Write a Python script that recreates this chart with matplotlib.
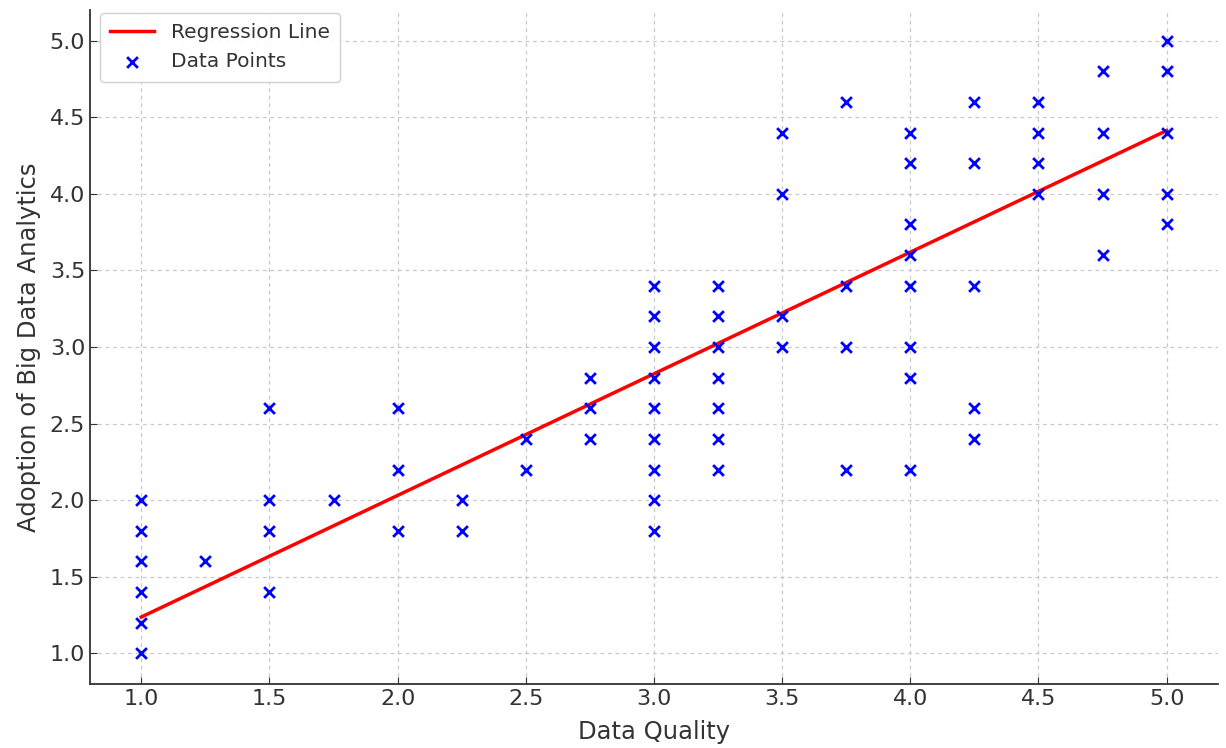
import numpy as np
import matplotlib.pyplot as plt

# Data (x = Data Quality, y = Adoption of Big Data Analytics)
x_groups = [1.0, 1.25, 1.5, 1.75, 2.0, 2.25, 2.5, 2.75, 3.0, 3.25,
            3.5, 3.75, 4.0, 4.25, 4.5, 4.75, 5.0]
y_groups = [
    [2.0, 1.8, 1.6, 1.4, 1.2, 1.0],
    [1.6],
    [2.6, 2.0, 1.8, 1.4],
    [2.0],
    [2.6, 2.2, 1.8],
    [2.0, 1.8],
    [2.4, 2.2],
    [2.8, 2.6, 2.4],
    [3.4, 3.2, 3.0, 2.8, 2.6, 2.4, 2.2, 2.0, 1.8],
    [3.4, 3.2, 3.0, 2.8, 2.6, 2.4, 2.2],
    [4.4, 4.0, 3.2, 3.0],
    [4.6, 3.4, 3.0, 2.2],
    [4.4, 4.2, 3.8, 3.6, 3.4, 3.0, 2.8, 2.2],
    [4.6, 4.2, 3.4, 2.6, 2.4],
    [4.6, 4.4, 4.2, 4.0],
    [4.8, 4.4, 4.0, 3.6],
    [5.0, 4.8, 4.4, 4.0, 3.8],
]

# Regression coefficients
# (the original fit includes overlapping points that cannot be seen)
reg_slope = 0.794
reg_intercept = 0.443

quality = np.array([xv for xv, ys in zip(x_groups, y_groups) for _ in ys])
adoption = np.array([yv for ys in y_groups for yv in ys])

x_line = np.array([quality.min(), quality.max()])
y_line = reg_slope * x_line + reg_intercept

text_color = '#333333'

fig = plt.figure(figsize=(12.26, 7.48), dpi=100)
ax = fig.add_axes([0.0734, 0.0856, 0.92, 0.901])

ax.plot(x_line, y_line, color='red', linewidth=2.5, label='Regression Line')
ax.scatter(quality, adoption, marker='x', color='blue', s=60, linewidths=2,
           label='Data Points', zorder=3)

ax.set_xlabel('Data Quality', fontsize=17.5, color=text_color, labelpad=8)
ax.set_ylabel('Adoption of Big Data Analytics', fontsize=17.5, color=text_color, labelpad=6)
ax.tick_params(direction='in', labelsize=16, colors=text_color, length=5)
ax.set_xticks(np.arange(1.0, 5.01, 0.5))
ax.set_yticks(np.arange(1.0, 5.01, 0.5))
ax.grid(True, linestyle=(0, (3, 3)), color='#c8c8c8', linewidth=0.9)
ax.set_axisbelow(True)
for side in ['top', 'right']:
    ax.spines[side].set_visible(False)
for side in ['left', 'bottom']:
    ax.spines[side].set_color('#333333')
    ax.spines[side].set_linewidth(1.3)

leg = ax.legend(loc='upper left', fontsize=14.5, framealpha=0.9, borderpad=0.5,
                handlelength=2.2, bbox_to_anchor=(0.0, 1.01))
for t in leg.get_texts():
    t.set_color(text_color)

plt.savefig('out.png', dpi=100)
